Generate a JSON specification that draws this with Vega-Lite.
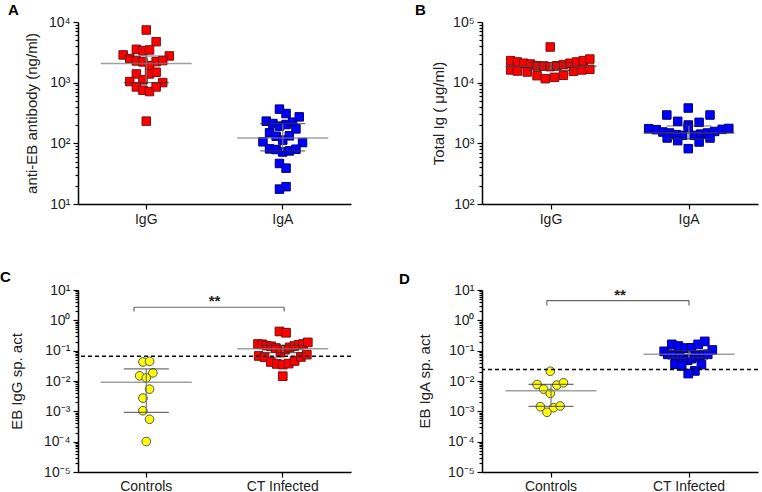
{
  "$schema": "https://vega.github.io/schema/vega-lite/v6.json",
  "padding": {"left": 0, "top": 3, "right": 0, "bottom": 0},
  "background": "white",
  "config": {
    "view": {"stroke": null},
    "font": "Liberation Sans",
    "axis": {"domainColor": "#000", "tickColor": "#000", "labelColor": "#222", "titleColor": "#222", "labelFont": "Liberation Sans", "titleFont": "Liberation Sans", "labelFontSize": 14, "titleFontSize": 15, "titleFontWeight": "normal", "grid": false, "domainWidth": 1.5, "tickWidth": 1.2},
    "title": {"font": "Liberation Sans", "fontSize": 15, "fontWeight": "bold", "color": "#000", "anchor": "start", "frame": "group", "offset": 0}
  },
  "resolve": {"scale": {"fill": "independent", "stroke": "independent", "shape": "independent"}},
  "datasets": {
    "A": [
      {"grp": "IgG", "v": 7380, "j": 0}, {"grp": "IgG", "v": 4740, "j": 3}, {"grp": "IgG", "v": 2866, "j": -7}, {"grp": "IgG", "v": 3548, "j": -3},
      {"grp": "IgG", "v": 3373, "j": -1}, {"grp": "IgG", "v": 3461, "j": 1}, {"grp": "IgG", "v": 2754, "j": 7}, {"grp": "IgG", "v": 2497, "j": -5},
      {"grp": "IgG", "v": 2281, "j": -3}, {"grp": "IgG", "v": 2198, "j": -1}, {"grp": "IgG", "v": 2223, "j": 3}, {"grp": "IgG", "v": 2311, "j": 5},
      {"grp": "IgG", "v": 1909, "j": 1}, {"grp": "IgG", "v": 1393, "j": -3}, {"grp": "IgG", "v": 1393, "j": 1}, {"grp": "IgG", "v": 1486, "j": 3},
      {"grp": "IgG", "v": 1042, "j": -5}, {"grp": "IgG", "v": 1112, "j": -1}, {"grp": "IgG", "v": 1004, "j": 5}, {"grp": "IgG", "v": 851, "j": -3},
      {"grp": "IgG", "v": 751, "j": -1}, {"grp": "IgG", "v": 714, "j": 1}, {"grp": "IgG", "v": 851, "j": 3}, {"grp": "IgG", "v": 232, "j": 0},
      {"grp": "IgA", "v": 366, "j": -1}, {"grp": "IgA", "v": 310, "j": 1}, {"grp": "IgA", "v": 232, "j": -5}, {"grp": "IgA", "v": 212, "j": -3},
      {"grp": "IgA", "v": 192, "j": -1}, {"grp": "IgA", "v": 204, "j": 1}, {"grp": "IgA", "v": 223, "j": 3}, {"grp": "IgA", "v": 273, "j": 5},
      {"grp": "IgA", "v": 173, "j": 4}, {"grp": "IgA", "v": 149, "j": -4}, {"grp": "IgA", "v": 131, "j": -2}, {"grp": "IgA", "v": 133, "j": 2},
      {"grp": "IgA", "v": 106, "j": -6}, {"grp": "IgA", "v": 113, "j": 0}, {"grp": "IgA", "v": 103, "j": 6}, {"grp": "IgA", "v": 81, "j": -4},
      {"grp": "IgA", "v": 79, "j": -2}, {"grp": "IgA", "v": 72, "j": 0}, {"grp": "IgA", "v": 75, "j": 2}, {"grp": "IgA", "v": 80, "j": 4},
      {"grp": "IgA", "v": 46.6, "j": -1}, {"grp": "IgA", "v": 39, "j": 1}, {"grp": "IgA", "v": 17.6, "j": -1}, {"grp": "IgA", "v": 19.3, "j": 1}
    ],
    "B": [
      {"grp": "IgG", "v": 23070, "j": -12}, {"grp": "IgG", "v": 21940, "j": -10}, {"grp": "IgG", "v": 20900, "j": -8}, {"grp": "IgG", "v": 20300, "j": -6},
      {"grp": "IgG", "v": 19050, "j": -4}, {"grp": "IgG", "v": 18830, "j": -2}, {"grp": "IgG", "v": 18360, "j": 0}, {"grp": "IgG", "v": 19050, "j": 2},
      {"grp": "IgG", "v": 19820, "j": 4}, {"grp": "IgG", "v": 20900, "j": 6}, {"grp": "IgG", "v": 21940, "j": 8}, {"grp": "IgG", "v": 23070, "j": 10},
      {"grp": "IgG", "v": 24500, "j": 12}, {"grp": "IgG", "v": 16200, "j": -12}, {"grp": "IgG", "v": 15570, "j": -10}, {"grp": "IgG", "v": 15000, "j": -7},
      {"grp": "IgG", "v": 13040, "j": -4}, {"grp": "IgG", "v": 11640, "j": -1.5}, {"grp": "IgG", "v": 12240, "j": 1.3}, {"grp": "IgG", "v": 13220, "j": 4},
      {"grp": "IgG", "v": 15380, "j": 7}, {"grp": "IgG", "v": 16200, "j": 9.6}, {"grp": "IgG", "v": 16600, "j": 12}, {"grp": "IgG", "v": 38700, "j": 0},
      {"grp": "IgA", "v": 3820, "j": 0}, {"grp": "IgA", "v": 2930, "j": -6.5}, {"grp": "IgA", "v": 2930, "j": 6.6}, {"grp": "IgA", "v": 2305, "j": -3.2},
      {"grp": "IgA", "v": 2220, "j": 3.3}, {"grp": "IgA", "v": 2005, "j": 0}, {"grp": "IgA", "v": 1836, "j": 0}, {"grp": "IgA", "v": 1746, "j": -12},
      {"grp": "IgA", "v": 1680, "j": -9.7}, {"grp": "IgA", "v": 1537, "j": -7.7}, {"grp": "IgA", "v": 1480, "j": -5.7}, {"grp": "IgA", "v": 1390, "j": -3.7},
      {"grp": "IgA", "v": 1355, "j": -1.7}, {"grp": "IgA", "v": 1355, "j": 1.8}, {"grp": "IgA", "v": 1420, "j": 3.8}, {"grp": "IgA", "v": 1480, "j": 5.8},
      {"grp": "IgA", "v": 1570, "j": 8}, {"grp": "IgA", "v": 1700, "j": 10.3}, {"grp": "IgA", "v": 1760, "j": 12.3}, {"grp": "IgA", "v": 1225, "j": -6.4},
      {"grp": "IgA", "v": 1107, "j": -3.2}, {"grp": "IgA", "v": 1052, "j": 3.3}, {"grp": "IgA", "v": 1225, "j": 6.6}, {"grp": "IgA", "v": 817, "j": 0}
    ],
    "C": [
      {"grp": "Controls", "v": 0.0425, "j": -1}, {"grp": "Controls", "v": 0.0446, "j": 1}, {"grp": "Controls", "v": 0.0185, "j": 2},
      {"grp": "Controls", "v": 0.0148, "j": -2}, {"grp": "Controls", "v": 0.0127, "j": 0}, {"grp": "Controls", "v": 0.0054, "j": 1},
      {"grp": "Controls", "v": 0.00273, "j": -1}, {"grp": "Controls", "v": 0.00105, "j": -1}, {"grp": "Controls", "v": 0.000547, "j": 1},
      {"grp": "Controls", "v": 0.000101, "j": 0},
      {"grp": "CT Infected", "v": 0.43, "j": -1}, {"grp": "CT Infected", "v": 0.389, "j": 1},
      {"grp": "CT Infected", "v": 0.1656, "j": -7.5}, {"grp": "CT Infected", "v": 0.162, "j": -6.2}, {"grp": "CT Infected", "v": 0.146, "j": -4.9},
      {"grp": "CT Infected", "v": 0.139, "j": -3.5}, {"grp": "CT Infected", "v": 0.122, "j": -2.1}, {"grp": "CT Infected", "v": 0.0859, "j": -0.7},
      {"grp": "CT Infected", "v": 0.108, "j": 0.7}, {"grp": "CT Infected", "v": 0.128, "j": 2.1}, {"grp": "CT Infected", "v": 0.142, "j": 3.5},
      {"grp": "CT Infected", "v": 0.157, "j": 4.9}, {"grp": "CT Infected", "v": 0.166, "j": 6.2}, {"grp": "CT Infected", "v": 0.1875, "j": 7.6},
      {"grp": "CT Infected", "v": 0.0669, "j": -7.3}, {"grp": "CT Infected", "v": 0.0604, "j": -5.5}, {"grp": "CT Infected", "v": 0.0425, "j": -3.6},
      {"grp": "CT Infected", "v": 0.0365, "j": -1.8}, {"grp": "CT Infected", "v": 0.0348, "j": 0}, {"grp": "CT Infected", "v": 0.0375, "j": 1.8},
      {"grp": "CT Infected", "v": 0.0458, "j": 3.6}, {"grp": "CT Infected", "v": 0.062, "j": 5.5}, {"grp": "CT Infected", "v": 0.074, "j": 7.3},
      {"grp": "CT Infected", "v": 0.0144, "j": 0}
    ],
    "D": [
      {"grp": "Controls", "v": 0.021, "j": 0}, {"grp": "Controls", "v": 0.00767, "j": -4}, {"grp": "Controls", "v": 0.0073, "j": 2},
      {"grp": "Controls", "v": 0.0087, "j": 4}, {"grp": "Controls", "v": 0.0054, "j": -2}, {"grp": "Controls", "v": 0.00389, "j": 0},
      {"grp": "Controls", "v": 0.00142, "j": -3}, {"grp": "Controls", "v": 0.00132, "j": 1}, {"grp": "Controls", "v": 0.0015, "j": 3},
      {"grp": "Controls", "v": 0.00093, "j": -1},
      {"grp": "CT Infected", "v": 0.1614, "j": -5}, {"grp": "CT Infected", "v": 0.142, "j": -3}, {"grp": "CT Infected", "v": 0.122, "j": -1},
      {"grp": "CT Infected", "v": 0.124, "j": 1}, {"grp": "CT Infected", "v": 0.161, "j": 3}, {"grp": "CT Infected", "v": 0.202, "j": 5},
      {"grp": "CT Infected", "v": 0.095, "j": -7.3}, {"grp": "CT Infected", "v": 0.105, "j": 7.3},
      {"grp": "CT Infected", "v": 0.0759, "j": -6.2}, {"grp": "CT Infected", "v": 0.074, "j": -5}, {"grp": "CT Infected", "v": 0.0703, "j": -3.8},
      {"grp": "CT Infected", "v": 0.0636, "j": -2.6}, {"grp": "CT Infected", "v": 0.0547, "j": -1.4}, {"grp": "CT Infected", "v": 0.0482, "j": -0.2},
      {"grp": "CT Infected", "v": 0.0547, "j": 1}, {"grp": "CT Infected", "v": 0.0636, "j": 2.2}, {"grp": "CT Infected", "v": 0.0703, "j": 3.5},
      {"grp": "CT Infected", "v": 0.074, "j": 4.7}, {"grp": "CT Infected", "v": 0.0759, "j": 5.9},
      {"grp": "CT Infected", "v": 0.0356, "j": -4}, {"grp": "CT Infected", "v": 0.0314, "j": -2}, {"grp": "CT Infected", "v": 0.0348, "j": 4},
      {"grp": "CT Infected", "v": 0.0215, "j": 2}, {"grp": "CT Infected", "v": 0.0176, "j": 0}
    ],
    "stats": [
      {"panel": "A", "grp": "IgG", "mean": 2061, "lo": 1004, "hi": 2754},
      {"panel": "A", "grp": "IgA", "mean": 123, "lo": 75, "hi": 212},
      {"panel": "B", "grp": "IgG", "mean": 18600, "lo": 16000, "hi": 21500},
      {"panel": "B", "grp": "IgA", "mean": 1480, "lo": 1180, "hi": 1930},
      {"panel": "C", "grp": "Controls", "mean": 0.00917, "lo": 0.00093, "hi": 0.025},
      {"panel": "C", "grp": "CT Infected", "mean": 0.116, "lo": 0.086, "hi": 0.15},
      {"panel": "D", "grp": "Controls", "mean": 0.00476, "lo": 0.00146, "hi": 0.0077},
      {"panel": "D", "grp": "CT Infected", "mean": 0.0759, "lo": 0.058, "hi": 0.1}
    ],
    "br": [
      {"panel": "C", "from": "Controls", "to": "CT Infected", "top": 2.7, "bot": 1.95, "cut": 0.0652, "lab": "**"},
      {"panel": "D", "from": "Controls", "to": "CT Infected", "top": 4.47, "bot": 3.06, "cut": 0.0238, "lab": "**"}
    ]
  },
  "columns": 2,
  "bounds": "flush",
  "spacing": {"row": 86, "column": 131},
  "concat": [
    {
      "width": 273, "height": 182,
      "title": {"text": "A", "dx": -70, "dy": 7},
      "layer": [
        {
          "data": {"name": "A"},
          "mark": {"type": "point", "shape": "square", "filled": true, "size": 72, "strokeWidth": 1, "opacity": 1},
          "encoding": {
            "x": {"field": "grp", "type": "nominal", "scale": {"type": "band", "domain": ["IgG", "IgA"], "paddingInner": 0, "paddingOuter": 0}, "axis": {"title": null, "labelAngle": 0, "tickSize": 5, "labelPadding": 3}},
            "xOffset": {"field": "j", "type": "quantitative", "scale": {"domain": [-12.41, 12.41]}},
            "y": {"field": "v", "type": "quantitative", "scale": {"type": "log", "domain": [10, 10000], "nice": false},
              "axis": {"title": "anti-EB antibody (ng/ml)", "titleX": -47, "titleBaseline": "middle", "labelOverlap": false,
                "values": [10,20,30,40,50,60,70,80,90,100,200,300,400,500,600,700,800,900,1000,2000,3000,4000,5000,6000,7000,8000,9000,10000],
                "labelExpr": "abs(log(datum.value)/LN10 - round(log(datum.value)/LN10)) < 0.001 ? '10' + ['⁻⁵','⁻⁴','⁻³','⁻²','⁻¹','⁰','¹','²','³','⁴','⁵'][round(log(datum.value)/LN10)+5] : ''",
                "tickSize": {"condition": {"test": "abs(log(datum.value)/LN10 - round(log(datum.value)/LN10)) < 0.001", "value": 5}, "value": 3}, "labelPadding": 3}},
            "fill": {"field": "grp", "type": "nominal", "scale": {"domain": ["IgG", "IgA"], "range": ["#ff0000", "#0000ff"]}, "legend": null},
            "stroke": {"field": "grp", "type": "nominal", "scale": {"domain": ["IgG", "IgA"], "range": ["#7a1010", "#00006e"]}, "legend": null}
          }
        },
        {"data": {"name": "stats"}, "transform": [{"filter": "datum.panel === 'A'"}], "mark": {"type": "rule", "color": "#777", "strokeWidth": 1.2},
          "encoding": {"x": {"field": "grp", "type": "nominal"}, "y": {"field": "lo", "type": "quantitative"}, "y2": {"field": "hi"}}},
        {"data": {"name": "stats"}, "transform": [{"filter": "datum.panel === 'A'"}], "mark": {"type": "tick", "color": "#333", "size": 45, "thickness": 1.2},
          "encoding": {"x": {"field": "grp", "type": "nominal"}, "y": {"field": "lo", "type": "quantitative"}}},
        {"data": {"name": "stats"}, "transform": [{"filter": "datum.panel === 'A'"}], "mark": {"type": "tick", "color": "#333", "size": 45, "thickness": 1.2},
          "encoding": {"x": {"field": "grp", "type": "nominal"}, "y": {"field": "hi", "type": "quantitative"}}},
        {"data": {"name": "stats"}, "transform": [{"filter": "datum.panel === 'A'"}], "mark": {"type": "tick", "color": "#777", "size": 91, "thickness": 1.5},
          "encoding": {"x": {"field": "grp", "type": "nominal"}, "y": {"field": "mean", "type": "quantitative"}}}
      ]
    },
    {
      "width": 276, "height": 182,
      "title": {"text": "B", "dx": -67, "dy": 7},
      "layer": [
        {
          "data": {"name": "B"},
          "mark": {"type": "point", "shape": "square", "filled": true, "size": 72, "strokeWidth": 1, "opacity": 1},
          "encoding": {
            "x": {"field": "grp", "type": "nominal", "scale": {"type": "band", "domain": ["IgG", "IgA"], "paddingInner": 0, "paddingOuter": 0}, "axis": {"title": null, "labelAngle": 0, "tickSize": 5, "labelPadding": 3}},
            "xOffset": {"field": "j", "type": "quantitative", "scale": {"domain": [-20.7, 20.7]}},
            "y": {"field": "v", "type": "quantitative", "scale": {"type": "log", "domain": [100, 100000], "nice": false},
              "axis": {"title": "Total Ig ( μg/ml)", "titleX": -44, "titleBaseline": "middle", "labelOverlap": false,
                "values": [100,200,300,400,500,600,700,800,900,1000,2000,3000,4000,5000,6000,7000,8000,9000,10000,20000,30000,40000,50000,60000,70000,80000,90000,100000],
                "labelExpr": "abs(log(datum.value)/LN10 - round(log(datum.value)/LN10)) < 0.001 ? '10' + ['⁻⁵','⁻⁴','⁻³','⁻²','⁻¹','⁰','¹','²','³','⁴','⁵'][round(log(datum.value)/LN10)+5] : ''",
                "tickSize": {"condition": {"test": "abs(log(datum.value)/LN10 - round(log(datum.value)/LN10)) < 0.001", "value": 5}, "value": 3}, "labelPadding": 3}},
            "fill": {"field": "grp", "type": "nominal", "scale": {"domain": ["IgG", "IgA"], "range": ["#ff0000", "#0000ff"]}, "legend": null},
            "stroke": {"field": "grp", "type": "nominal", "scale": {"domain": ["IgG", "IgA"], "range": ["#7a1010", "#00006e"]}, "legend": null}
          }
        },
        {"data": {"name": "stats"}, "transform": [{"filter": "datum.panel === 'B'"}], "mark": {"type": "rule", "color": "#777", "strokeWidth": 1.2},
          "encoding": {"x": {"field": "grp", "type": "nominal"}, "y": {"field": "lo", "type": "quantitative"}, "y2": {"field": "hi"}}},
        {"data": {"name": "stats"}, "transform": [{"filter": "datum.panel === 'B'"}], "mark": {"type": "tick", "color": "#333", "size": 45, "thickness": 1.2},
          "encoding": {"x": {"field": "grp", "type": "nominal"}, "y": {"field": "lo", "type": "quantitative"}}},
        {"data": {"name": "stats"}, "transform": [{"filter": "datum.panel === 'B'"}], "mark": {"type": "tick", "color": "#333", "size": 45, "thickness": 1.2},
          "encoding": {"x": {"field": "grp", "type": "nominal"}, "y": {"field": "hi", "type": "quantitative"}}},
        {"data": {"name": "stats"}, "transform": [{"filter": "datum.panel === 'B'"}], "mark": {"type": "tick", "color": "#444", "size": 91, "thickness": 1.5},
          "encoding": {"x": {"field": "grp", "type": "nominal"}, "y": {"field": "mean", "type": "quantitative"}}}
      ]
    },
    {
      "width": 273, "height": 182,
      "title": {"text": "C", "dx": -78, "dy": 6},
      "layer": [
        {
          "data": {"name": "C"},
          "mark": {"type": "point", "filled": true, "size": 75, "strokeWidth": 1, "opacity": 1},
          "encoding": {
            "x": {"field": "grp", "type": "nominal", "scale": {"type": "band", "domain": ["Controls", "CT Infected"], "paddingInner": 0, "paddingOuter": 0}, "axis": {"title": null, "labelAngle": 0, "tickSize": 5, "labelPadding": 2}},
            "xOffset": {"field": "j", "type": "quantitative", "scale": {"domain": [-12.41, 12.41]}},
            "y": {"field": "v", "type": "quantitative", "scale": {"type": "log", "domain": [0.00001, 10], "nice": false},
              "axis": {"title": "EB IgG sp. act", "titleX": -62, "titleBaseline": "middle", "labelOverlap": false,
                "values": [0.00001,0.00002,0.00003,0.00004,0.00005,0.00006,0.00007,0.00008,0.00009,0.0001,0.0002,0.0003,0.0004,0.0005,0.0006,0.0007,0.0008,0.0009,0.001,0.002,0.003,0.004,0.005,0.006,0.007,0.008,0.009,0.01,0.02,0.03,0.04,0.05,0.06,0.07,0.08,0.09,0.1,0.2,0.3,0.4,0.5,0.6,0.7,0.8,0.9,1,2,3,4,5,6,7,8,9,10],
                "labelExpr": "abs(log(datum.value)/LN10 - round(log(datum.value)/LN10)) < 0.001 ? '10' + ['⁻⁵','⁻⁴','⁻³','⁻²','⁻¹','⁰','¹','²','³','⁴','⁵'][round(log(datum.value)/LN10)+5] : ''",
                "tickSize": {"condition": {"test": "abs(log(datum.value)/LN10 - round(log(datum.value)/LN10)) < 0.001", "value": 5}, "value": 3}, "labelPadding": 3}},
            "shape": {"field": "grp", "type": "nominal", "scale": {"domain": ["Controls", "CT Infected"], "range": ["circle", "square"]}, "legend": null},
            "fill": {"field": "grp", "type": "nominal", "scale": {"domain": ["Controls", "CT Infected"], "range": ["#ffff00", "#ff0000"]}, "legend": null},
            "stroke": {"field": "grp", "type": "nominal", "scale": {"domain": ["Controls", "CT Infected"], "range": ["#555", "#7a1010"]}, "legend": null}
          }
        },
        {"data": {"name": "br"}, "transform": [{"filter": "datum.panel === 'C'"}], "mark": {"type": "rule", "color": "#000", "strokeWidth": 1.5, "strokeDash": [4, 3]},
          "encoding": {"y": {"field": "cut", "type": "quantitative"}}},
        {"data": {"name": "stats"}, "transform": [{"filter": "datum.panel === 'C'"}], "mark": {"type": "rule", "color": "#777", "strokeWidth": 1.2},
          "encoding": {"x": {"field": "grp", "type": "nominal"}, "y": {"field": "lo", "type": "quantitative"}, "y2": {"field": "hi"}}},
        {"data": {"name": "stats"}, "transform": [{"filter": "datum.panel === 'C'"}], "mark": {"type": "tick", "color": "#333", "size": 45, "thickness": 1.2},
          "encoding": {"x": {"field": "grp", "type": "nominal"}, "y": {"field": "lo", "type": "quantitative"}}},
        {"data": {"name": "stats"}, "transform": [{"filter": "datum.panel === 'C'"}], "mark": {"type": "tick", "color": "#333", "size": 45, "thickness": 1.2},
          "encoding": {"x": {"field": "grp", "type": "nominal"}, "y": {"field": "hi", "type": "quantitative"}}},
        {"data": {"name": "stats"}, "transform": [{"filter": "datum.panel === 'C'"}], "mark": {"type": "tick", "color": "#777", "size": 91, "thickness": 1.5},
          "encoding": {"x": {"field": "grp", "type": "nominal"}, "y": {"field": "mean", "type": "quantitative"}}},
        {"data": {"name": "br"}, "transform": [{"filter": "datum.panel === 'C'"}], "mark": {"type": "rule", "color": "#666", "strokeWidth": 1.2},
          "encoding": {"x": {"field": "from", "type": "nominal", "bandPosition": 0.41}, "x2": {"field": "to", "bandPosition": 0.51}, "y": {"field": "top", "type": "quantitative"}}},
        {"data": {"name": "br"}, "transform": [{"filter": "datum.panel === 'C'"}], "mark": {"type": "rule", "color": "#666", "strokeWidth": 1.2},
          "encoding": {"x": {"field": "from", "type": "nominal", "bandPosition": 0.41}, "y": {"field": "top", "type": "quantitative"}, "y2": {"field": "bot"}}},
        {"data": {"name": "br"}, "transform": [{"filter": "datum.panel === 'C'"}], "mark": {"type": "rule", "color": "#666", "strokeWidth": 1.2},
          "encoding": {"x": {"field": "to", "type": "nominal", "bandPosition": 0.51}, "y": {"field": "top", "type": "quantitative"}, "y2": {"field": "bot"}}},
        {"data": {"name": "br"}, "transform": [{"filter": "datum.panel === 'C'"}], "mark": {"type": "text", "font": "Liberation Sans", "fontSize": 15, "fontWeight": "bold", "baseline": "bottom", "dy": 2, "color": "#222"},
          "encoding": {"x": {"field": "from", "type": "nominal", "bandPosition": 1}, "y": {"field": "top", "type": "quantitative"}, "text": {"field": "lab"}}}
      ]
    },
    {
      "width": 276, "height": 182,
      "title": {"text": "D", "dx": -83, "dy": 8},
      "layer": [
        {
          "data": {"name": "D"},
          "mark": {"type": "point", "filled": true, "size": 75, "strokeWidth": 1, "opacity": 1},
          "encoding": {
            "x": {"field": "grp", "type": "nominal", "scale": {"type": "band", "domain": ["Controls", "CT Infected"], "paddingInner": 0, "paddingOuter": 0}, "axis": {"title": null, "labelAngle": 0, "tickSize": 5, "labelPadding": 2}},
            "xOffset": {"field": "j", "type": "quantitative", "scale": {"domain": [-12.5, 12.5]}},
            "y": {"field": "v", "type": "quantitative", "scale": {"type": "log", "domain": [0.00001, 10], "nice": false},
              "axis": {"title": "EB IgA sp. act", "titleX": -58, "titleBaseline": "middle", "labelOverlap": false,
                "values": [0.00001,0.00002,0.00003,0.00004,0.00005,0.00006,0.00007,0.00008,0.00009,0.0001,0.0002,0.0003,0.0004,0.0005,0.0006,0.0007,0.0008,0.0009,0.001,0.002,0.003,0.004,0.005,0.006,0.007,0.008,0.009,0.01,0.02,0.03,0.04,0.05,0.06,0.07,0.08,0.09,0.1,0.2,0.3,0.4,0.5,0.6,0.7,0.8,0.9,1,2,3,4,5,6,7,8,9,10],
                "labelExpr": "abs(log(datum.value)/LN10 - round(log(datum.value)/LN10)) < 0.001 ? '10' + ['⁻⁵','⁻⁴','⁻³','⁻²','⁻¹','⁰','¹','²','³','⁴','⁵'][round(log(datum.value)/LN10)+5] : ''",
                "tickSize": {"condition": {"test": "abs(log(datum.value)/LN10 - round(log(datum.value)/LN10)) < 0.001", "value": 5}, "value": 3}, "labelPadding": 3}},
            "shape": {"field": "grp", "type": "nominal", "scale": {"domain": ["Controls", "CT Infected"], "range": ["circle", "square"]}, "legend": null},
            "fill": {"field": "grp", "type": "nominal", "scale": {"domain": ["Controls", "CT Infected"], "range": ["#ffff00", "#0000ff"]}, "legend": null},
            "stroke": {"field": "grp", "type": "nominal", "scale": {"domain": ["Controls", "CT Infected"], "range": ["#555", "#00006e"]}, "legend": null}
          }
        },
        {"data": {"name": "br"}, "transform": [{"filter": "datum.panel === 'D'"}], "mark": {"type": "rule", "color": "#000", "strokeWidth": 1.5, "strokeDash": [4, 3]},
          "encoding": {"y": {"field": "cut", "type": "quantitative"}}},
        {"data": {"name": "stats"}, "transform": [{"filter": "datum.panel === 'D'"}], "mark": {"type": "rule", "color": "#777", "strokeWidth": 1.2},
          "encoding": {"x": {"field": "grp", "type": "nominal"}, "y": {"field": "lo", "type": "quantitative"}, "y2": {"field": "hi"}}},
        {"data": {"name": "stats"}, "transform": [{"filter": "datum.panel === 'D'"}], "mark": {"type": "tick", "color": "#333", "size": 45, "thickness": 1.2},
          "encoding": {"x": {"field": "grp", "type": "nominal"}, "y": {"field": "lo", "type": "quantitative"}}},
        {"data": {"name": "stats"}, "transform": [{"filter": "datum.panel === 'D'"}], "mark": {"type": "tick", "color": "#333", "size": 45, "thickness": 1.2},
          "encoding": {"x": {"field": "grp", "type": "nominal"}, "y": {"field": "hi", "type": "quantitative"}}},
        {"data": {"name": "stats"}, "transform": [{"filter": "datum.panel === 'D'"}], "mark": {"type": "tick", "color": "#777", "size": 91, "thickness": 1.5},
          "encoding": {"x": {"field": "grp", "type": "nominal"}, "y": {"field": "mean", "type": "quantitative"}}},
        {"data": {"name": "br"}, "transform": [{"filter": "datum.panel === 'D'"}], "mark": {"type": "rule", "color": "#666", "strokeWidth": 1.2},
          "encoding": {"x": {"field": "from", "type": "nominal", "bandPosition": 0.47}, "x2": {"field": "to", "bandPosition": 0.5}, "y": {"field": "top", "type": "quantitative"}}},
        {"data": {"name": "br"}, "transform": [{"filter": "datum.panel === 'D'"}], "mark": {"type": "rule", "color": "#666", "strokeWidth": 1.2},
          "encoding": {"x": {"field": "from", "type": "nominal", "bandPosition": 0.47}, "y": {"field": "top", "type": "quantitative"}, "y2": {"field": "bot"}}},
        {"data": {"name": "br"}, "transform": [{"filter": "datum.panel === 'D'"}], "mark": {"type": "rule", "color": "#666", "strokeWidth": 1.2},
          "encoding": {"x": {"field": "to", "type": "nominal", "bandPosition": 0.5}, "y": {"field": "top", "type": "quantitative"}, "y2": {"field": "bot"}}},
        {"data": {"name": "br"}, "transform": [{"filter": "datum.panel === 'D'"}], "mark": {"type": "text", "font": "Liberation Sans", "fontSize": 15, "fontWeight": "bold", "baseline": "bottom", "dy": 2, "color": "#222"},
          "encoding": {"x": {"field": "from", "type": "nominal", "bandPosition": 1}, "y": {"field": "top", "type": "quantitative"}, "text": {"field": "lab"}}}
      ]
    }
  ]
}
